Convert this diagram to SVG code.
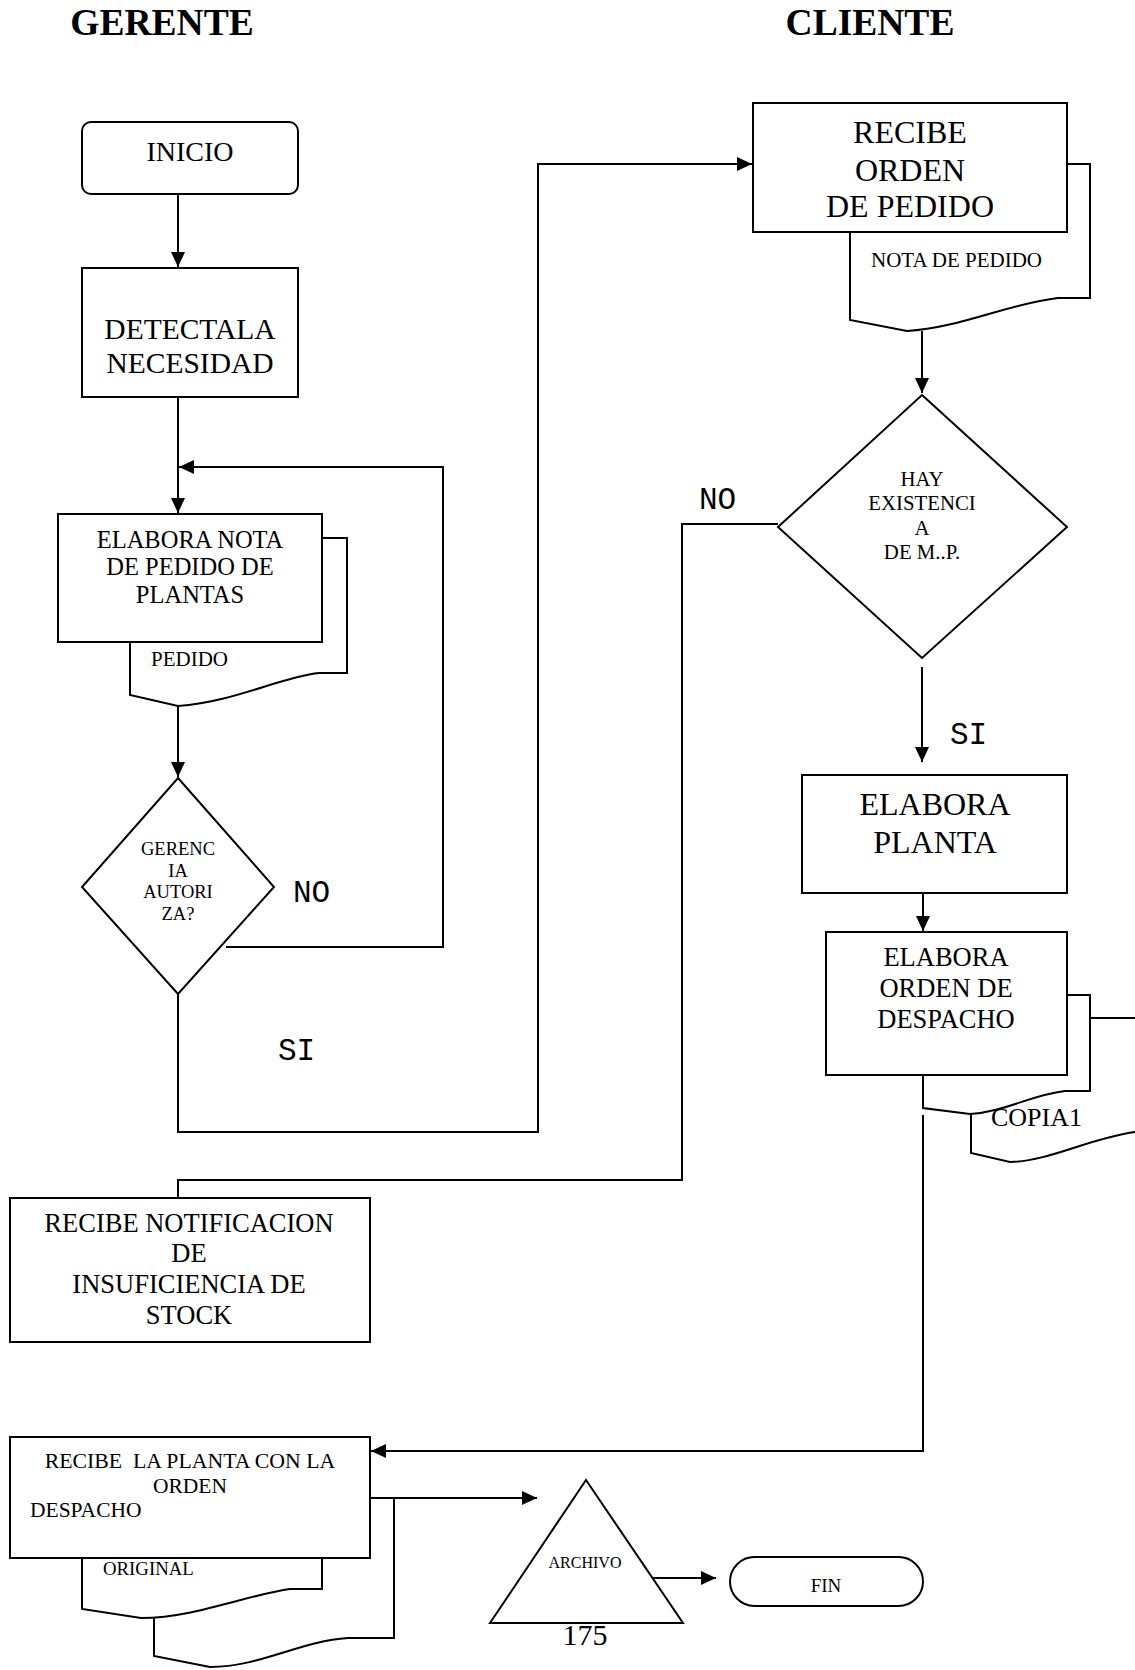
<svg xmlns="http://www.w3.org/2000/svg" width="1135" height="1670" viewBox="0 0 1135 1670">
  <defs>
    <style>
      .box { fill: #fff; stroke: #000; stroke-width: 2; }
      .ln { fill: none; stroke: #000; stroke-width: 2; }
      .t { font-family: "Liberation Serif", "Times New Roman", serif; fill: #000; text-anchor: middle; }
      .s { font-family: "Liberation Serif", "Times New Roman", serif; fill: #000; }
      .m { font-family: "Liberation Mono", "Courier New", monospace; fill: #000; font-size: 31px; }
      .h { font-family: "Liberation Serif", "Times New Roman", serif; font-weight: bold; font-size: 37.5px; fill: #000; text-anchor: middle; }
    </style>
    <marker id="arr" viewBox="0 0 15 14" refX="15" refY="7" markerWidth="15" markerHeight="14" markerUnits="userSpaceOnUse" orient="auto">
      <path d="M0,0 L15,7 L0,14 z" fill="#000"/>
    </marker>
  </defs>
  <rect width="1135" height="1670" fill="#fff"/>

  <!-- lane headings -->
  <text class="h" x="162" y="35">GERENTE</text>
  <text class="h" x="870" y="35">CLIENTE</text>

  <!-- connectors -->
  <g id="connectors">
    <path class="ln" d="M178,194 V267" marker-end="url(#arr)"/>
    <path class="ln" d="M178,397 V513" marker-end="url(#arr)"/>
    <path class="ln" d="M226,947 H443 V467 H179" marker-end="url(#arr)"/>
    <path class="ln" d="M178,706 V777" marker-end="url(#arr)"/>
    <path class="ln" d="M178,994 V1132 H538 V164 H752" marker-end="url(#arr)"/>
    <path class="ln" d="M922,331 V393" marker-end="url(#arr)"/>
    <path class="ln" d="M778,524 H682 V1180 H178 V1198"/>
    <path class="ln" d="M922,667 V762" marker-end="url(#arr)"/>
    <path class="ln" d="M923,883 V931" marker-end="url(#arr)"/>
    <path class="ln" d="M923,1115 V1451 H371" marker-end="url(#arr)"/>
    <path class="ln" d="M394,1498 H537" marker-end="url(#arr)"/>
    <path class="ln" d="M644,1578 H716" marker-end="url(#arr)"/>
  </g>

  <!-- GERENTE lane -->
  <g id="inicio">
    <rect class="box" x="82" y="122" width="216" height="72" rx="9"/>
    <text class="t" x="190" y="161" font-size="28">INICIO</text>
  </g>

  <g id="detecta">
    <rect class="box" x="82" y="268" width="216" height="129"/>
    <text class="t" x="190" y="339" font-size="29.5">DETECTALA</text>
    <text class="t" x="190" y="373" font-size="29.5">NECESIDAD</text>
  </g>

  <g id="elabora-nota">
    <path class="box" d="M130,538 H347 V673 H319 C280,677 235,702 178,706 L130,695 Z"/>
    <rect class="box" x="58" y="514" width="264" height="128"/>
    <text class="t" x="190" y="548" font-size="24.5">ELABORA NOTA</text>
    <text class="t" x="190" y="575" font-size="24.5">DE PEDIDO DE</text>
    <text class="t" x="190" y="603" font-size="24.5">PLANTAS</text>
    <text class="s" x="151" y="666" font-size="21">PEDIDO</text>
  </g>

  <g id="autoriza">
    <path class="box" d="M178,778 L274,887 L178,994 L82,887 Z"/>
    <text class="t" x="178" y="855" font-size="18.5">GERENC</text>
    <text class="t" x="178" y="877" font-size="18.5">IA</text>
    <text class="t" x="178" y="898" font-size="18.5">AUTORI</text>
    <text class="t" x="178" y="920" font-size="18.5">ZA?</text>
    <text class="m" x="293" y="902">NO</text>
    <text class="m" x="278" y="1060">SI</text>
  </g>

  <g id="recibe-notificacion">
    <rect class="box" x="10" y="1198" width="360" height="144"/>
    <text class="t" x="189" y="1232" font-size="26.5">RECIBE NOTIFICACION</text>
    <text class="t" x="189" y="1262" font-size="26.5">DE</text>
    <text class="t" x="189" y="1293" font-size="26.5">INSUFICIENCIA DE</text>
    <text class="t" x="189" y="1324" font-size="26.5">STOCK</text>
  </g>

  <g id="recibe-planta">
    <path class="box" d="M154,1498 H394 V1638 H348 C300,1641 260,1667 210,1667 L154,1656 Z"/>
    <path class="box" d="M82,1540 H322 V1589 H290 C250,1594 195,1618 141,1618 L82,1609 Z"/>
    <rect class="box" x="10" y="1437" width="360" height="121"/>
    <text class="t" x="190" y="1468" font-size="21.8" style="white-space:pre">RECIBE  LA PLANTA CON LA</text>
    <text class="t" x="190" y="1493" font-size="21.5">ORDEN</text>
    <text class="s" x="30" y="1517" font-size="21.5">DESPACHO</text>
    <text class="s" x="103" y="1575" font-size="18.8">ORIGINAL</text>
  </g>

  <g id="archivo">
    <path class="box" d="M586,1480 L683,1623 L490,1623 Z"/>
    <text class="t" x="585" y="1568" font-size="16">ARCHIVO</text>
  </g>

  <g id="fin">
    <rect class="box" x="730" y="1557" width="193" height="49" rx="24.5"/>
    <text class="t" x="826" y="1592" font-size="19">FIN</text>
  </g>

  <!-- CLIENTE lane -->
  <g id="recibe-orden">
    <path class="box" d="M850,164 H1090 V298 H1058 C1010,303 960,328 907,331 L850,320 Z"/>
    <rect class="box" x="753" y="103" width="314" height="129"/>
    <text class="t" x="910" y="143" font-size="32">RECIBE</text>
    <text class="t" x="910" y="181" font-size="32">ORDEN</text>
    <text class="t" x="910" y="217" font-size="32">DE PEDIDO</text>
    <text class="s" x="871" y="267" font-size="21">NOTA DE PEDIDO</text>
  </g>

  <g id="existencia">
    <path class="box" d="M922,395 L1067,527 L922,658 L778,527 Z"/>
    <text class="t" x="922" y="486" font-size="20.8">HAY</text>
    <text class="t" x="922" y="510" font-size="20.8">EXISTENCI</text>
    <text class="t" x="922" y="535" font-size="20.8">A</text>
    <text class="t" x="922" y="559" font-size="20.8">DE M..P.</text>
    <text class="m" x="699" y="509">NO</text>
    <text class="m" x="950" y="744">SI</text>
  </g>

  <g id="elabora-planta">
    <rect class="box" x="802" y="775" width="265" height="118"/>
    <text class="t" x="935" y="815" font-size="32">ELABORA</text>
    <text class="t" x="935" y="853" font-size="32">PLANTA</text>
  </g>

  <g id="orden-despacho">
    <path class="box" d="M971,1018 H1150 V1132 H1135 C1090,1138 1050,1161 1010,1162 L971,1153 Z"/>
    <path class="box" d="M923,995 H1090 V1091 H1065 C1030,1095 1005,1112 970,1114 L923,1108 Z"/>
    <rect class="box" x="826" y="932" width="241" height="143"/>
    <text class="t" x="946" y="966" font-size="26.5">ELABORA</text>
    <text class="t" x="946" y="997" font-size="26.5">ORDEN DE</text>
    <text class="t" x="946" y="1028" font-size="26.5">DESPACHO</text>
    <text class="s" x="991" y="1126" font-size="26">COPIA1</text>
  </g>

  <!-- page number -->
  <text class="t" x="585" y="1645" font-size="30">175</text>
</svg>
